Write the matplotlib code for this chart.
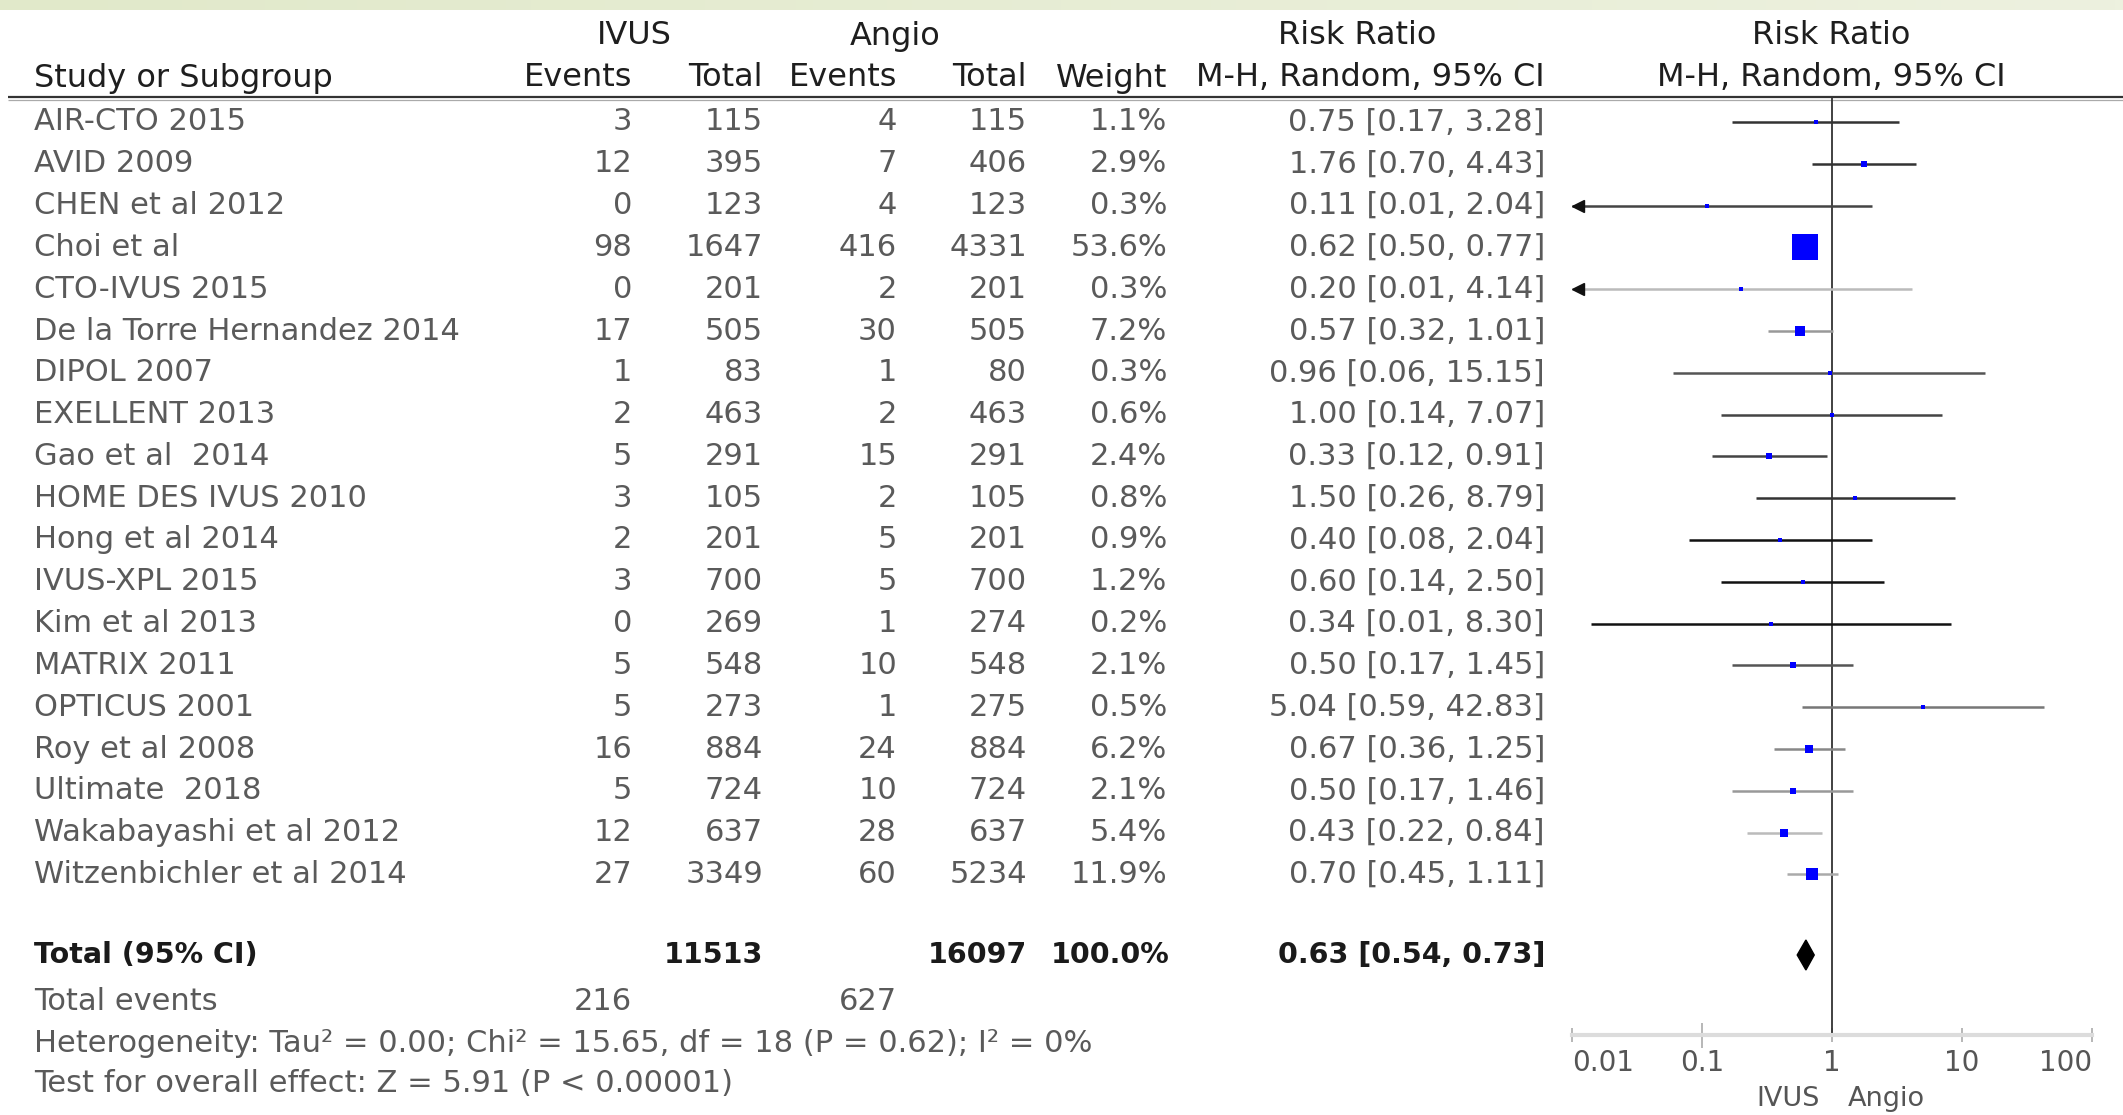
import numpy as np
import matplotlib
matplotlib.use("Agg")
import matplotlib.pyplot as plt
from matplotlib.colors import LinearSegmentedColormap

# ---------------- data ----------------
studies = ["AIR-CTO 2015", "AVID 2009", "CHEN et al 2012", "Choi et al", "CTO-IVUS 2015",
           "De la Torre Hernandez 2014", "DIPOL 2007", "EXELLENT 2013", "Gao et al  2014",
           "HOME DES IVUS 2010", "Hong et al 2014", "IVUS-XPL 2015", "Kim et al 2013",
           "MATRIX 2011", "OPTICUS 2001", "Roy et al 2008", "Ultimate  2018",
           "Wakabayashi et al 2012", "Witzenbichler et al 2014"]
ivus_events = [3, 12, 0, 98, 0, 17, 1, 2, 5, 3, 2, 3, 0, 5, 5, 16, 5, 12, 27]
ivus_total = [115, 395, 123, 1647, 201, 505, 83, 463, 291, 105, 201, 700, 269, 548, 273, 884, 724, 637, 3349]
angio_events = [4, 7, 4, 416, 2, 30, 1, 2, 15, 2, 5, 5, 1, 10, 1, 24, 10, 28, 60]
angio_total = [115, 406, 123, 4331, 201, 505, 80, 463, 291, 105, 201, 700, 274, 548, 275, 884, 724, 637, 5234]
weight = [1.1, 2.9, 0.3, 53.6, 0.3, 7.2, 0.3, 0.6, 2.4, 0.8, 0.9, 1.2, 0.2, 2.1, 0.5, 6.2, 2.1, 5.4, 11.9]
rr = [0.75, 1.76, 0.11, 0.62, 0.20, 0.57, 0.96, 1.00, 0.33, 1.50, 0.40, 0.60, 0.34, 0.50, 5.04, 0.67, 0.50, 0.43, 0.70]
ci_lo = [0.17, 0.70, 0.006, 0.50, 0.0097, 0.32, 0.06, 0.14, 0.12, 0.26, 0.08, 0.14, 0.014, 0.17, 0.59, 0.36, 0.17, 0.22, 0.45]
ci_hi = [3.28, 4.43, 2.04, 0.77, 4.14, 1.01, 15.15, 7.07, 0.91, 8.79, 2.04, 2.50, 8.30, 1.45, 42.83, 1.25, 1.46, 0.84, 1.11]

total_ivus = 11513
total_angio = 16097
total_weight = 100.0
events_ivus = 216
events_angio = 627
pooled_rr, pooled_lo, pooled_hi = 0.63, 0.54, 0.73
heterogeneity = "Heterogeneity: Tau² = 0.00; Chi² = 15.65, df = 18 (P = 0.62); I² = 0%"
overall = "Test for overall effect: Z = 5.91 (P < 0.00001)"
axis_ticks = [0.01, 0.1, 1, 10, 100]
axis_ticklabels = ["0.01", "0.1", "1", "10", "100"]

# per-row CI line shade (style)
line_shades = ["#333333", "#333333", "#444444", "#444444", "#bbbbbb", "#999999", "#555555",
               "#444444", "#444444", "#333333", "#111111", "#111111", "#111111", "#555555",
               "#777777", "#888888", "#999999", "#bbbbbb", "#aaaaaa"]

# ---------------- layout (pixels) ----------------
W, H = 2123, 1115
fig = plt.figure(figsize=(W / 100, H / 100), dpi=100)
ax = fig.add_axes([0, 0, 1, 1])
ax.set_xlim(0, W)
ax.set_ylim(H, 0)
ax.axis("off")

# top green band
grad = np.linspace(0, 1, 256).reshape(1, -1)
cmap = LinearSegmentedColormap.from_list("band", ["#e1e9ca", "#edf1df"])
ax.imshow(grad, extent=[0, W, 10, 0], aspect="auto", cmap=cmap, zorder=0)

row_y0, row_dy = 122, 41.8
ys = [row_y0 + row_dy * i for i in range(len(studies))]
y_total = 955
y_events = 1002
y_het = 1044
y_test = 1083

x_name = 34
x_ie, x_it, x_ae, x_at, x_w, x_ci = 632, 763, 897, 1027, 1167, 1545

FS_ROW = 22
FS_HEAD = 23
C_ROW = "#5a5a5a"
C_HEAD = "#1e1e1e"
fam = "DejaVu Sans"

def t(x, y, s, ha="left", size=FS_ROW, color=C_ROW, weight="normal"):
    ax.text(x, y, s, ha=ha, va="center", fontsize=size, color=color,
            family=fam, fontweight=weight)

# headers
t(634, 36, "IVUS", ha="center", size=FS_HEAD, color=C_HEAD)
t(895, 36, "Angio", ha="center", size=FS_HEAD, color=C_HEAD)
t(1357, 36, "Risk Ratio", ha="center", size=FS_HEAD, color=C_HEAD)
t(1831, 36, "Risk Ratio", ha="center", size=FS_HEAD, color=C_HEAD)
t(x_name, 78, "Study or Subgroup", size=FS_HEAD, color=C_HEAD)
t(x_ie, 78, "Events", ha="right", size=FS_HEAD, color=C_HEAD)
t(x_it, 78, "Total", ha="right", size=FS_HEAD, color=C_HEAD)
t(x_ae, 78, "Events", ha="right", size=FS_HEAD, color=C_HEAD)
t(x_at, 78, "Total", ha="right", size=FS_HEAD, color=C_HEAD)
t(x_w, 78, "Weight", ha="right", size=FS_HEAD, color=C_HEAD)
t(x_ci, 78, "M-H, Random, 95% CI", ha="right", size=FS_HEAD, color=C_HEAD)
t(1831, 78, "M-H, Random, 95% CI", ha="center", size=FS_HEAD, color=C_HEAD)

ax.plot([8, W], [96.5, 96.5], color="#333333", lw=1.6, solid_capstyle="butt")
ax.plot([8, W], [99.5, 99.5], color="#aaaaaa", lw=0.9, solid_capstyle="butt")

for i, y in enumerate(ys):
    t(x_name, y, studies[i])
    t(x_ie, y, str(ivus_events[i]), ha="right")
    t(x_it, y, str(ivus_total[i]), ha="right")
    t(x_ae, y, str(angio_events[i]), ha="right")
    t(x_at, y, str(angio_total[i]), ha="right")
    t(x_w, y, f"{weight[i]:.1f}%", ha="right")
    t(x_ci, y, f"{rr[i]:.2f} [{ci_lo[i]:.2f}, {ci_hi[i]:.2f}]", ha="right")

FS_TOT = 20.5
C_TOT = "#1a1a1a"
t(x_name, y_total, "Total (95% CI)", size=FS_TOT, color=C_TOT, weight="bold")
t(x_it, y_total, str(total_ivus), ha="right", size=FS_TOT, color=C_TOT, weight="bold")
t(x_at, y_total, str(total_angio), ha="right", size=FS_TOT, color=C_TOT, weight="bold")
t(x_w + 3, y_total, f"{total_weight:.1f}%", ha="right", size=FS_TOT, color=C_TOT, weight="bold")
t(x_ci, y_total, f"{pooled_rr:.2f} [{pooled_lo:.2f}, {pooled_hi:.2f}]", ha="right",
  size=FS_TOT, color=C_TOT, weight="bold")
t(x_name, y_events, "Total events")
t(x_ie, y_events, str(events_ivus), ha="right")
t(x_ae, y_events, str(events_angio), ha="right")
t(x_name, y_het, heterogeneity)
t(x_name, y_test, overall)

# ---------------- forest axes ----------------
fx0, fx1, fy_top, fy_bot = 1572, 2092, 97, 1035
fax = fig.add_axes([fx0 / W, 1 - fy_bot / H, (fx1 - fx0) / W, (fy_bot - fy_top) / H])
fax.set_xscale("log")
fax.set_xlim(axis_ticks[0], axis_ticks[-1])
fax.set_ylim(fy_bot, fy_top)
fax.patch.set_alpha(0)
for s in ["top", "left", "right"]:
    fax.spines[s].set_visible(False)
fax.spines["bottom"].set_color("#dcdcdc")
fax.spines["bottom"].set_linewidth(3)
fax.set_yticks([])
fax.set_xticks(axis_ticks)
fax.set_xticklabels(axis_ticklabels)
fax.xaxis.set_minor_locator(matplotlib.ticker.NullLocator())
fax.tick_params(axis="x", direction="inout", length=10, width=1.2, color="#aaaaaa",
                labelsize=20, labelcolor="#555555", pad=5)
lbls = fax.get_xticklabels()
lbls[0].set_ha("left")
lbls[-1].set_ha("right")
fax.xaxis.get_major_ticks()[1].tick1line.set_color("#111111")
fax.xaxis.get_major_ticks()[1].tick1line.set_markersize(18)

fax.axvline(1, color="#333333", lw=1.3, zorder=2)

lim_lo = axis_ticks[0]
for i, y in enumerate(ys):
    lo = max(ci_lo[i], lim_lo)
    fax.plot([lo, ci_hi[i]], [y, y], color=line_shades[i], lw=1.8, zorder=3,
             solid_capstyle="butt")
    if ci_lo[i] < lim_lo:
        fax.plot([lim_lo * 1.12], [y], marker="<", color="#111111", ms=9, zorder=4)
    side_px = max(26 * np.sqrt(weight[i] / max(weight)), 4.0)
    fax.plot([rr[i]], [y], marker="s", color="#0000ff", ms=side_px * 0.72,
             mew=0, zorder=5)

dh = 15
fax.fill([pooled_lo, pooled_rr, pooled_hi, pooled_rr],
         [y_total, y_total - dh, y_total, y_total + dh], color="#000000", zorder=5)

ax.text(1820, 1099, "IVUS", ha="right", va="center", fontsize=19.5, color="#555555", family=fam)
ax.text(1848, 1099, "Angio", ha="left", va="center", fontsize=19.5, color="#555555", family=fam)

fig.savefig("out.png", dpi=100)
